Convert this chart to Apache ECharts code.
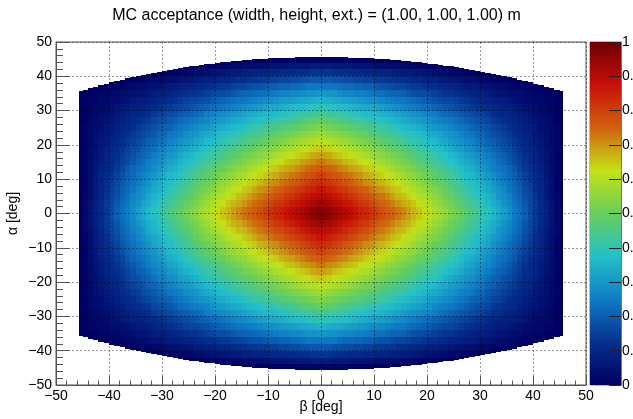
<!DOCTYPE html>
<html>
<head>
<meta charset="utf-8">
<script src="https://cdn.jsdelivr.net/npm/echarts@6/dist/echarts.min.js"></script>
<style>
html,body{margin:0;padding:0;background:#fff;}
#chart{width:633px;height:419px;}
</style>
</head>
<body>
<div id="chart"></div>
<script>
// Quadrant (beta >= 0, alpha >= 0) of the acceptance map, in percent, one column per beta bin;
// the map is mirror-symmetric in both angles.
const betaEdges = [0,1,2,3,4,5,6,7,8,9,10,11,12,13,14,15,16,17,18,19,20,21,22,23,24,25,26,27,28,29,30,31,32,33,34,35,36,37,38,39,40,41,42,43,44,45,45.6];
const alphaEdges = [0,2,4,6,8,10,12,14,16,18,20,22,24,26,28,30,32,34,36,38,40,42,44];
const alphaTop = [45.6,45.6,45.55,45.55,45.5,45.45,45.4,45.35,45.3,45.2,45.1,45.0,44.9,44.8,44.65,44.5,44.4,44.25,44.1,43.9,43.7,43.55,43.35,43.1,42.9,42.65,42.4,42.2,41.9,41.6,41.35,41.05,40.75,40.4,40.1,39.75,39.4,39.0,38.65,38.25,37.85,37.45,37.0,36.55,36.1,35.7];
const acc = [
  [97,94,90,87,83,80,76,73,69,65,61,57,53,49,44,40,35,30,24,19,13,7,1],
  [96,92,89,85,82,78,75,71,68,64,60,56,52,48,43,39,34,29,24,19,13,7,1],
  [94,91,87,84,80,77,74,70,66,63,59,55,51,47,43,38,33,29,24,18,12,6,1],
  [92,89,86,82,79,76,72,69,65,61,58,54,50,46,42,37,33,28,23,18,12,6,1],
  [91,87,84,81,77,74,71,67,64,60,57,53,49,45,41,37,32,27,22,17,12,6,1],
  [89,86,82,79,76,73,69,66,63,59,56,52,48,44,40,36,31,27,22,17,11,6,0],
  [87,84,81,78,74,71,68,65,61,58,54,51,47,43,39,35,31,26,21,16,11,5,0],
  [85,82,79,76,73,70,67,63,60,57,53,50,46,42,38,34,30,26,21,16,11,5,0],
  [84,81,78,75,71,68,65,62,59,55,52,49,45,41,37,33,29,25,20,15,10,5,0],
  [82,79,76,73,70,67,64,61,57,54,51,47,44,40,36,33,28,24,20,15,10,5,0],
  [80,77,74,71,68,65,62,59,56,53,50,46,43,39,36,32,28,23,19,14,9,4,0],
  [78,75,73,70,67,64,61,58,55,52,48,45,42,38,35,31,27,23,18,14,9,4,0],
  [76,74,71,68,65,62,59,56,53,50,47,44,41,37,34,30,26,22,18,13,9,3,0],
  [75,72,69,66,64,61,58,55,52,49,46,43,40,36,33,29,25,21,17,13,8,3,0],
  [73,70,67,65,62,59,56,54,51,48,45,42,38,35,32,28,24,21,16,12,8,3,0],
  [71,68,66,63,60,58,55,52,49,46,43,40,37,34,31,27,24,20,16,12,7,2,0],
  [69,67,64,61,59,56,53,51,48,45,42,39,36,33,30,26,23,19,15,11,7,2,0],
  [67,65,62,60,57,55,52,49,47,44,41,38,35,32,29,25,22,18,14,10,6,2,0],
  [65,63,60,58,55,53,50,48,45,42,40,37,34,31,28,24,21,17,14,10,6,1,0],
  [63,61,59,56,54,51,49,46,44,41,38,36,33,30,27,23,20,17,13,9,5,1],
  [61,59,57,54,52,50,47,45,42,40,37,34,31,29,26,22,19,16,12,8,5,1],
  [59,57,55,53,50,48,46,43,41,38,36,33,30,27,25,21,18,15,12,8,4,0],
  [57,55,53,51,49,46,44,42,39,37,34,32,29,26,23,20,17,14,11,7,3,0],
  [55,53,51,49,47,45,42,40,38,35,33,30,28,25,22,19,16,13,10,7,3,0],
  [53,51,49,47,45,43,41,38,36,34,31,29,27,24,21,18,16,13,9,6,2,0],
  [51,49,47,45,43,41,39,37,35,32,30,28,25,23,20,17,15,12,9,5,2,0],
  [49,47,45,43,41,39,37,35,33,31,29,26,24,22,19,16,14,11,8,5,1,0],
  [47,45,43,41,39,37,35,33,31,29,27,25,23,20,18,15,13,10,7,4,1,0],
  [45,43,41,39,37,36,34,32,30,28,26,24,21,19,17,14,12,9,7,4,1],
  [43,41,39,37,36,34,32,30,28,26,24,22,20,18,16,13,11,8,6,3,0],
  [40,39,37,35,34,32,30,28,27,25,23,21,19,17,15,12,10,8,5,2,0],
  [38,36,35,33,32,30,28,27,25,23,21,19,18,16,14,11,9,7,5,2,0],
  [36,34,33,31,29,28,26,25,23,21,20,18,16,14,12,10,8,6,4,1,0],
  [33,32,30,29,27,26,24,23,21,20,18,17,15,13,11,9,7,5,3,1,0],
  [31,29,28,27,25,24,23,21,20,18,17,15,14,12,10,8,7,5,3,1,0],
  [28,27,26,24,23,22,21,19,18,17,15,14,12,11,9,8,6,4,2,0],
  [25,24,23,22,21,20,19,17,16,15,14,12,11,10,8,7,5,3,2,0],
  [23,22,21,20,19,18,16,15,14,13,12,11,10,8,7,6,4,3,1,0],
  [20,19,18,17,16,15,14,13,12,11,10,9,8,7,6,5,3,2,1,0],
  [17,16,16,15,14,13,12,11,11,10,9,8,7,6,5,4,3,2,0,0],
  [14,14,13,12,12,11,10,9,9,8,7,6,6,5,4,3,2,1,0],
  [11,11,10,10,9,9,8,7,7,6,6,5,4,4,3,2,2,1,0],
  [8,8,7,7,7,6,6,5,5,4,4,4,3,3,2,2,1,0,0],
  [5,5,4,4,4,4,3,3,3,3,2,2,2,2,1,1,1,0,0],
  [2,2,2,1,1,1,1,1,1,1,1,1,1,0,0,0,0,0,0],
  [0,0,0,0,0,0,0,0,0,0,0,0,0,0,0,0,0,0]
];
const paletteColors = ['#000063','#05308e','#0f7cc6','#23c0c9','#66ce5a','#c4e216','#d0610d','#c71008','#6e0002'];
const xTicks = [-50,-40,-30,-20,-10,0,10,20,30,40,50];
const zTicks = [0,0.1,0.2,0.3,0.4,0.5,0.6,0.7,0.8,0.9,1];

const cells = [];
for (let j = 0; j < acc.length; j++) {
  const b0 = betaEdges[j], b1 = betaEdges[j+1];
  const col = acc[j];
  for (let i = 0; i < col.length; i++) {
    const a0 = alphaEdges[i];
    const a1 = (i === col.length - 1) ? alphaTop[j] : alphaEdges[i+1];
    const v = col[i];
    for (const sx of [1,-1]) for (const sy of [1,-1]) {
      cells.push([
        sx > 0 ? b0 : -b1, sx > 0 ? b1 : -b0,
        sy > 0 ? a0 : -a1, sy > 0 ? a1 : -a0, v
      ]);
    }
  }
}

const font = 'Liberation Sans, Arial, Helvetica, sans-serif';
const minusFmt = v => String(v).replace('-', '\u2212');
const chart = echarts.init(document.getElementById('chart'), null, {renderer: 'canvas'});
const stops = paletteColors.map((c, k) => ({offset: k / (paletteColors.length - 1), color: c}));

chart.setOption({
  animation: false,
  backgroundColor: '#fff',
  textStyle: {fontFamily: font},
  title: {
    text: 'MC acceptance (width, height, ext.) = (1.00, 1.00, 1.00) m',
    left: 'center', top: 3,
    textStyle: {fontFamily: font, fontSize: 16, fontWeight: 'normal', color: '#000'}
  },
  grid: [
    {left: 56, right: 47, top: 42, bottom: 34, show: true, borderColor: '#555', borderWidth: 1,
     backgroundColor: 'transparent', containLabel: false, outerBoundsMode: 'none'},
    {left: 590, width: 31, top: 42, bottom: 34, show: true, borderColor: '#777', borderWidth: 1,
     containLabel: false, outerBoundsMode: 'none'}
  ],
  xAxis: [
    {
      gridIndex: 0, type: 'value', min: xTicks[0], max: xTicks[xTicks.length-1], interval: 10, z: 10,
      name: '\u03b2 [deg]', nameLocation: 'middle', nameGap: 15, nameMoveOverlap: false,
      nameTextStyle: {fontFamily: font, fontSize: 14, color: '#000', verticalAlign: 'top'},
      axisLine: {show: true, onZero: false, lineStyle: {color: '#555', width: 1}},
      axisTick: {show: true, inside: true, length: 9, lineStyle: {color: '#555'}},
      minorTick: {show: true, splitNumber: 5, length: 4.5, lineStyle: {color: '#555'}},
      axisLabel: {margin: 4, fontFamily: font, fontSize: 14, color: '#000', formatter: minusFmt},
      splitLine: {show: true, lineStyle: {color: 'rgba(0,0,0,0.4)', type: [2,2], width: 1}}
    },
    {gridIndex: 1, type: 'category', data: ['z'], show: false}
  ],
  yAxis: [
    {
      gridIndex: 0, type: 'value', min: -50, max: 50, interval: 10, z: 10,
      name: '\u03b1 [deg]', nameLocation: 'middle', nameGap: 36, nameRotate: 90, nameMoveOverlap: false,
      nameTextStyle: {fontFamily: font, fontSize: 14, color: '#000'},
      axisLine: {show: true, onZero: false, lineStyle: {color: '#555', width: 1}},
      axisTick: {show: true, inside: true, length: 14, lineStyle: {color: '#555'}},
      minorTick: {show: true, splitNumber: 5, length: 7, lineStyle: {color: '#555'}},
      axisLabel: {margin: 4, fontFamily: font, fontSize: 14, color: '#000', formatter: minusFmt},
      splitLine: {show: true, lineStyle: {color: 'rgba(0,0,0,0.4)', type: [2,2], width: 1}}
    },
    {
      gridIndex: 1, type: 'value', min: zTicks[0], max: zTicks[zTicks.length-1], interval: 0.1, position: 'right', z: 10,
      axisLine: {show: true, onZero: false, lineStyle: {color: '#777'}},
      axisTick: {show: true, inside: true, length: 12, lineStyle: {color: '#222'}},
      axisLabel: {margin: 1, fontFamily: font, fontSize: 14, color: '#000',
        formatter: v => (v === 0 ? '0' : (v === 1 ? '1' : v.toFixed(1)))},
      splitLine: {show: false}
    }
  ],
  visualMap: {
    type: 'continuous', show: false, min: 0, max: 100, dimension: 4, seriesIndex: 0,
    inRange: {color: paletteColors}
  },
  series: [
    {
      type: 'custom', xAxisIndex: 0, yAxisIndex: 0,
      encode: {x: [0, 1], y: [2, 3]},
      data: cells,
      renderItem: function (params, api) {
        const p0 = api.coord([api.value(0), api.value(3)]);
        const p1 = api.coord([api.value(1), api.value(2)]);
        const x = Math.round(p0[0]), y = Math.round(p0[1]);
        const w = Math.round(p1[0]) - x, h = Math.round(p1[1]) - y;
        return {type: 'rect', shape: {x: x, y: y, width: w, height: h}, style: {fill: api.visual('color')}};
      }
    },
    {
      type: 'bar', xAxisIndex: 1, yAxisIndex: 1, data: [1], barWidth: '100%',
      itemStyle: {color: new echarts.graphic.LinearGradient(0, 1, 0, 0, stops)}
    }
  ]
});
</script>
</body>
</html>
